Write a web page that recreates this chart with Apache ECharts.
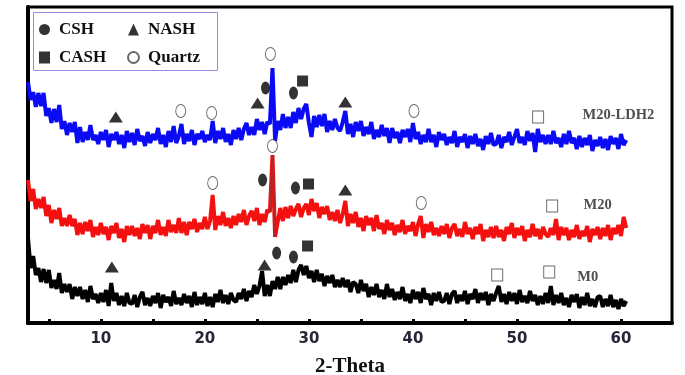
<!DOCTYPE html>
<html>
<head>
<meta charset="utf-8">
<script src="https://cdn.jsdelivr.net/npm/echarts@6/dist/echarts.min.js"></script>
<style>
  html, body { margin: 0; padding: 0; background: #fff; }
  #chart { width: 685px; height: 375px; }
</style>
</head>
<body>
<div id="chart"></div>
<script>
// 2-theta sampling, 0.25 deg steps
var angles = [
  3,3.25,3.5,3.75,4,4.25,4.5,4.75,5,5.25,5.5,5.75,6,6.25,6.5,6.75,7,7.25,7.5,7.75,
  8,8.25,8.5,8.75,9,9.25,9.5,9.75,10,10.25,10.5,10.75,11,11.25,11.5,11.75,12,12.25,12.5,12.75,
  13,13.25,13.5,13.75,14,14.25,14.5,14.75,15,15.25,15.5,15.75,16,16.25,16.5,16.75,17,17.25,17.5,17.75,
  18,18.25,18.5,18.75,19,19.25,19.5,19.75,20,20.25,20.5,20.75,21,21.25,21.5,21.75,22,22.25,22.5,22.75,
  23,23.25,23.5,23.75,24,24.25,24.5,24.75,25,25.25,25.5,25.75,26,26.25,26.5,26.75,27,27.25,27.5,27.75,
  28,28.25,28.5,28.75,29,29.25,29.5,29.75,30,30.25,30.5,30.75,31,31.25,31.5,31.75,32,32.25,32.5,32.75,
  33,33.25,33.5,33.75,34,34.25,34.5,34.75,35,35.25,35.5,35.75,36,36.25,36.5,36.75,37,37.25,37.5,37.75,
  38,38.25,38.5,38.75,39,39.25,39.5,39.75,40,40.25,40.5,40.75,41,41.25,41.5,41.75,42,42.25,42.5,42.75,
  43,43.25,43.5,43.75,44,44.25,44.5,44.75,45,45.25,45.5,45.75,46,46.25,46.5,46.75,47,47.25,47.5,47.75,
  48,48.25,48.5,48.75,49,49.25,49.5,49.75,50,50.25,50.5,50.75,51,51.25,51.5,51.75,52,52.25,52.5,52.75,
  53,53.25,53.5,53.75,54,54.25,54.5,54.75,55,55.25,55.5,55.75,56,56.25,56.5,56.75,57,57.25,57.5,57.75,
  58,58.25,58.5,58.75,59,59.25,59.5,59.75,60,60.25,60.5
];

// intensities (arbitrary units, curves offset)
var m20ldh2 = [
  241,223,231,216,230,217,230,207,215,200,214,201,218,194,202,188,200,191,201,180,
  196,181,191,183,198,183,188,179,191,183,193,176,189,183,191,179,188,175,192,181,
  190,178,194,182,187,177,191,180,189,183,195,179,188,176,192,181,197,180,187,199,
  179,189,182,193,178,189,184,192,181,188,183,202,180,192,184,195,181,189,178,193,
  184,195,183,194,200,188,196,188,204,193,201,189,201,199,255,182,202,193,209,195,
  206,195,211,200,215,204,214,219,200,186,207,196,208,197,209,191,202,193,204,195,
  192,201,212,189,199,186,201,192,202,187,196,189,201,184,193,186,198,187,195,180,
  195,185,191,180,193,186,194,181,200,184,191,179,188,181,194,181,188,176,191,183,
  189,178,186,180,192,176,186,181,189,175,187,179,189,177,184,173,187,179,190,178,
  179,188,175,186,181,191,178,186,194,180,186,178,192,182,190,171,194,181,188,179,
  188,179,192,180,185,176,189,179,192,180,185,174,187,176,185,178,188,172,183,177,
  186,175,184,173,187,179,185,174,189,178,183
];
var m20 = [
  143,122,134,114,124,115,126,107,118,100,113,104,115,97,105,97,108,97,104,88,
  100,89,101,92,103,86,96,88,100,89,96,83,97,90,100,85,94,81,97,88,
  97,87,95,84,99,90,98,84,97,90,103,88,96,87,103,91,98,90,105,90,
  101,88,101,94,104,91,100,94,106,94,102,128,93,107,98,111,97,105,95,107,
  98,109,101,113,98,107,112,102,115,98,109,101,113,111,168,86,101,115,102,116,
  105,117,107,114,119,106,115,119,108,124,112,120,105,116,109,117,103,111,102,113,
  100,109,122,97,109,100,111,96,105,92,107,98,105,92,108,94,100,89,103,93,
  100,88,98,91,103,89,97,92,101,87,99,107,85,99,91,101,88,95,87,97,
  89,99,85,95,99,87,94,86,101,89,95,84,96,89,99,82,93,86,96,85,
  97,86,93,82,96,89,100,85,95,88,97,82,93,86,99,87,94,84,96,89,
  86,95,88,104,83,96,88,95,83,93,86,98,84,92,87,97,81,94,88,96,
  84,95,87,98,83,95,89,98,87,106,95
];
var m0 = [
  85,55,67,48,55,41,54,40,53,35,43,34,50,30,39,31,39,24,36,27,
  36,24,33,21,37,24,29,20,30,21,33,17,40,22,30,18,27,17,30,20,
  19,28,16,26,31,18,25,17,27,20,30,15,28,21,26,17,32,19,25,18,
  29,20,27,16,31,18,26,19,30,17,26,16,29,21,33,20,28,19,30,23,
  21,30,24,34,22,32,26,38,29,37,52,27,38,27,42,34,46,34,46,38,
  48,40,53,41,53,58,48,57,45,52,41,53,42,49,37,47,40,48,36,43,
  36,45,36,43,31,41,39,30,43,32,39,26,36,28,39,26,33,24,39,26,
  34,23,31,24,36,22,29,20,33,24,31,20,35,24,29,18,30,22,31,21,
  22,30,19,29,32,20,28,22,32,19,29,24,34,20,30,23,31,18,29,22,
  30,37,21,29,19,31,22,30,19,33,21,27,20,32,22,28,18,27,19,30,
  20,37,18,28,20,30,18,25,16,28,21,29,15,26,18,30,17,24,16,26,
  27,16,24,17,28,16,23,14,24,17,22
];

// phase markers [2-theta, intensity]
var csh = [[25.83,235],[28.52,230],[25.55,143],[28.71,135],[26.9,70],[28.52,66]];
var nash = [[11.44,206],[25.07,220],[33.5,221],[33.5,133],[11.06,56],[25.74,58]];
var cash = [[29.39,242],[29.96,139],[29.87,77]];
var quartz = [[17.68,212],[20.65,210],[26.3,269],[40.1,212],[20.75,140],[26.5,177],[40.8,120]];
var other = [[52.03,206],[53.38,117],[48.1,48],[53.1,51]];

var curveNames = ['M20-LDH2', 'M20', 'M0'];
var curveLabelPos = [[56.3,208],[56.4,118],[55.8,46]];

var tickValues = [5,10,15,20,25,30,35,40,45,50,55,60];
var labelValues = [10,20,30,40,50,60];

function pairs(ys) {
  return ys.map(function (y, i) { return [angles[i], y]; });
}

var peakIdx = angles.indexOf(26.5);
var m20Peak = [peakIdx - 1, peakIdx, peakIdx + 1].map(function (i) { return [angles[i], m20[i]]; });

var serif = '"Liberation Serif", "Times New Roman", serif';
var lineW = 4;

var legendBase = {
  orient: 'vertical', top: 21,
  itemWidth: 11, itemHeight: 12, itemGap: 11,
  padding: 0, selectedMode: false, z: 6,
  textStyle: { fontFamily: serif, fontWeight: 'bold', fontSize: 17, color: '#111', padding: [0, 0, 0, 4] }
};

var chart = echarts.init(document.getElementById('chart'));
var option = {
  animation: false,
  grid: {
    left: 28, right: 13, top: 7, bottom: 52,
    outerBoundsMode: 'none',
    show: true, borderColor: '#000', borderWidth: 3
  },
  graphic: [{
    type: 'rect', left: 33, top: 12, z: 5,
    shape: { width: 184, height: 58 },
    style: { fill: '#fff', stroke: '#8f8fe0', lineWidth: 1 }
  }],
  legend: [
    Object.assign({}, legendBase, { left: 39, data: [{ name: 'CSH', icon: 'circle' }, { name: 'CASH', icon: 'rect' }] }),
    Object.assign({}, legendBase, { left: 127, data: [{ name: 'NASH', icon: 'triangle' }, { name: 'Quartz', icon: 'circle' }] })
  ],
  xAxis: {
    type: 'value', min: 3, max: 64.9,
    name: '2-Theta', nameLocation: 'middle', nameGap: 33,
    nameTextStyle: { fontFamily: serif, fontWeight: 'bold', fontSize: 21, color: '#111' },
    axisLine: { lineStyle: { color: '#000', width: 4 } },
    axisTick: { customValues: tickValues, inside: true, length: 4, lineStyle: { color: '#000', width: 3 } },
    axisLabel: {
      customValues: labelValues, margin: 9,
      fontFamily: '"DejaVu Sans", Verdana, sans-serif', fontWeight: 'bold', fontSize: 15, color: '#262636'
    },
    splitLine: { show: false }
  },
  yAxis: {
    type: 'value', min: 0, max: 316,
    axisLine: { show: true, lineStyle: { color: '#000', width: 4 } },
    axisTick: { show: false },
    axisLabel: { show: false },
    splitLine: { show: false }
  },
  series: [
    { name: 'M20-LDH2', type: 'line', data: pairs(m20ldh2), symbol: 'none', lineStyle: { color: '#0a0af5', width: lineW }, z: 2 },
    { name: 'M20', type: 'line', data: pairs(m20), symbol: 'none', lineStyle: { color: '#f51010', width: lineW }, z: 2 },
    { name: 'M20 peak', type: 'line', data: m20Peak, symbol: 'none', lineStyle: { color: '#b02828', width: 2.2 }, z: 3 },
    { name: 'M0', type: 'line', data: pairs(m0), symbol: 'none', lineStyle: { color: '#000', width: lineW }, z: 2 },
    { name: 'CSH', type: 'scatter', data: csh, symbol: 'circle', symbolSize: [9, 13], itemStyle: { color: '#000' }, z: 5 },
    { name: 'NASH', type: 'scatter', data: nash, symbol: 'triangle', symbolSize: [14, 11], itemStyle: { color: '#000' }, z: 5 },
    { name: 'CASH', type: 'scatter', data: cash, symbol: 'rect', symbolSize: [11, 11], itemStyle: { color: '#000' }, z: 5 },
    { name: 'Quartz', type: 'scatter', data: quartz, symbol: 'circle', symbolSize: [10, 13],
      itemStyle: { color: '#fff', borderColor: '#444', borderWidth: 1 }, z: 5 },
    { name: 'other', type: 'scatter', data: other, symbol: 'rect', symbolSize: [11, 12],
      itemStyle: { color: '#fff', borderColor: '#444', borderWidth: 1 }, z: 5 },
    {
      name: 'curve labels', type: 'scatter', symbolSize: 0, z: 6,
      data: curveLabelPos.map(function (p, i) { return { value: p, name: curveNames[i] }; }),
      label: {
        show: true, position: 'right', distance: 0, formatter: '{b}',
        fontFamily: serif, fontWeight: 'bold', fontSize: 14.5, color: '#222'
      }
    }
  ]
};
chart.setOption(option);
</script>
</body>
</html>
